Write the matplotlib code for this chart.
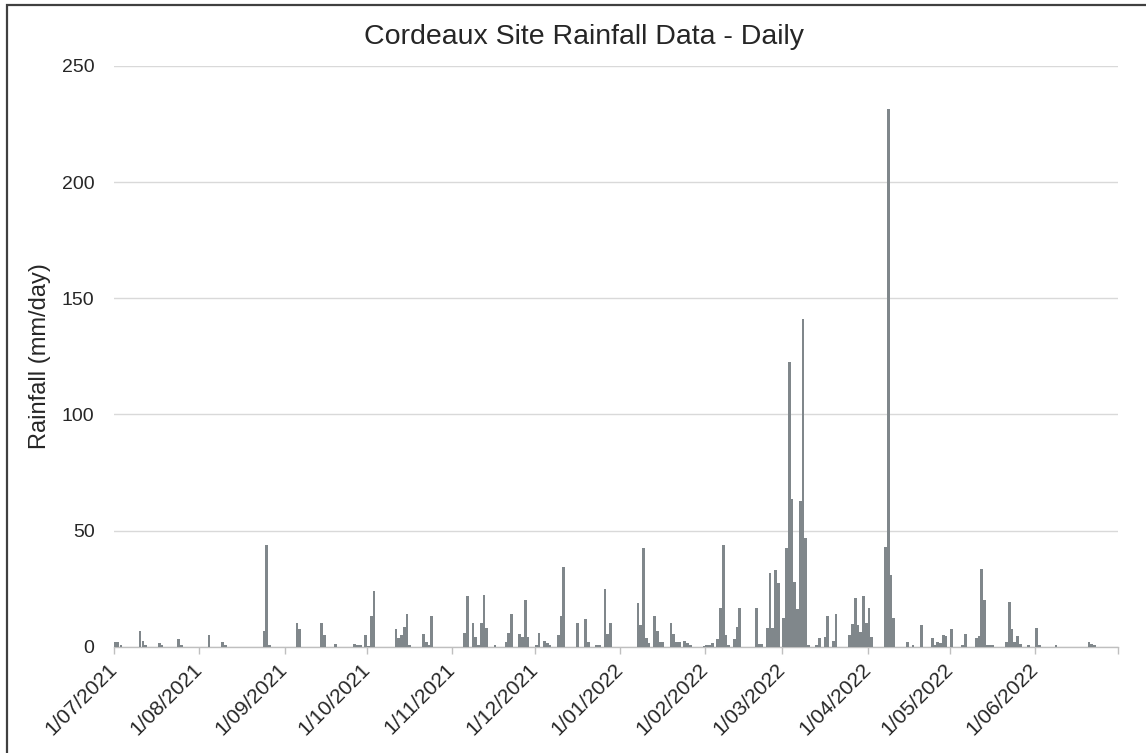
import matplotlib
matplotlib.use("Agg")
import matplotlib.pyplot as plt
import matplotlib.dates as mdates
import pandas as pd
from matplotlib.patches import Rectangle

# ---- data (rainy days only; all other days are 0 mm) ----
rain_dates = [
    "2021-07-01", "2021-07-02", "2021-07-03", "2021-07-10", "2021-07-11", "2021-07-12",
    "2021-07-17", "2021-07-18", "2021-07-24", "2021-07-25", "2021-08-04", "2021-08-09",
    "2021-08-10", "2021-08-24", "2021-08-25", "2021-08-26", "2021-09-05", "2021-09-06",
    "2021-09-14", "2021-09-15", "2021-09-19", "2021-09-26", "2021-09-27", "2021-09-28",
    "2021-09-30", "2021-10-01", "2021-10-02", "2021-10-03", "2021-10-11", "2021-10-12",
    "2021-10-13", "2021-10-14", "2021-10-15", "2021-10-16", "2021-10-21", "2021-10-22",
    "2021-10-23", "2021-10-24", "2021-11-05", "2021-11-06", "2021-11-08", "2021-11-09",
    "2021-11-10", "2021-11-11", "2021-11-12", "2021-11-13", "2021-11-16", "2021-11-20",
    "2021-11-21", "2021-11-22", "2021-11-25", "2021-11-26", "2021-11-27", "2021-11-28",
    "2021-12-01", "2021-12-02", "2021-12-04", "2021-12-05", "2021-12-06", "2021-12-09",
    "2021-12-10", "2021-12-11", "2021-12-16", "2021-12-19", "2021-12-20", "2021-12-23",
    "2021-12-24", "2021-12-26", "2021-12-27", "2021-12-28", "2022-01-07", "2022-01-08",
    "2022-01-09", "2022-01-10", "2022-01-11", "2022-01-13", "2022-01-14", "2022-01-15",
    "2022-01-16", "2022-01-19", "2022-01-20", "2022-01-21", "2022-01-22", "2022-01-24",
    "2022-01-25", "2022-01-26", "2022-01-31", "2022-02-01", "2022-02-02", "2022-02-03",
    "2022-02-05", "2022-02-06", "2022-02-07", "2022-02-08", "2022-02-09", "2022-02-11",
    "2022-02-12", "2022-02-13", "2022-02-19", "2022-02-20", "2022-02-21", "2022-02-23",
    "2022-02-24", "2022-02-25", "2022-02-26", "2022-02-27", "2022-03-01", "2022-03-02",
    "2022-03-03", "2022-03-04", "2022-03-05", "2022-03-06", "2022-03-07", "2022-03-08",
    "2022-03-09", "2022-03-10", "2022-03-13", "2022-03-14", "2022-03-16", "2022-03-17",
    "2022-03-19", "2022-03-20", "2022-03-25", "2022-03-26", "2022-03-27", "2022-03-28",
    "2022-03-29", "2022-03-30", "2022-03-31", "2022-04-01", "2022-04-02", "2022-04-07",
    "2022-04-08", "2022-04-09", "2022-04-10", "2022-04-15", "2022-04-17", "2022-04-20",
    "2022-04-24", "2022-04-25", "2022-04-26", "2022-04-27", "2022-04-28", "2022-04-29",
    "2022-05-01", "2022-05-05", "2022-05-06", "2022-05-10", "2022-05-11", "2022-05-12",
    "2022-05-13", "2022-05-14", "2022-05-15", "2022-05-16", "2022-05-21", "2022-05-22",
    "2022-05-23", "2022-05-24", "2022-05-25", "2022-05-26", "2022-05-29", "2022-06-01",
    "2022-06-02", "2022-06-08", "2022-06-20", "2022-06-21", "2022-06-22",
]
rain_mm = [
    1.9, 1.9, 0.6, 6.8, 2.6, 0.6,
    1.4, 0.6, 3.3, 0.6, 4.9, 2.0,
    0.6, 6.8, 43.7, 0.6, 10.3, 7.5,
    10.3, 4.9, 1.3, 1.3, 0.6, 0.6,
    4.9, 0.5, 13.2, 23.9, 7.5, 3.9,
    4.9, 8.6, 13.9, 0.6, 5.6, 2.0,
    0.6, 13.4, 6.0, 22.0, 10.3, 4.3,
    0.6, 10.3, 22.4, 7.9, 0.6, 2.0,
    6.0, 13.9, 5.6, 4.3, 20.1, 4.3,
    0.6, 6.0, 2.6, 1.4, 0.6, 4.9,
    13.4, 34.1, 10.3, 11.8, 2.0, 0.7,
    0.7, 25.0, 5.6, 10.3, 18.8, 9.2,
    42.4, 3.9, 1.7, 13.4, 6.8, 2.0,
    2.0, 10.3, 5.6, 2.0, 2.0, 2.6,
    1.4, 0.6, 0.4, 0.6, 0.9, 1.4,
    3.4, 16.5, 43.7, 4.9, 0.6, 3.4,
    8.6, 16.5, 16.5, 1.1, 1.1, 7.9,
    31.6, 7.9, 32.8, 27.3, 12.2, 42.4,
    122.4, 63.5, 28.0, 16.1, 62.5, 141.0,
    46.7, 0.7, 0.7, 3.6, 4.3, 13.4,
    2.4, 13.9, 5.0, 9.6, 20.8, 9.3,
    6.2, 21.8, 10.0, 16.5, 4.0, 42.8,
    231.5, 30.8, 12.2, 1.9, 0.7, 9.2,
    3.9, 0.7, 2.0, 1.4, 4.9, 4.5,
    7.5, 0.7, 5.6, 3.9, 4.5, 33.3,
    20.1, 0.7, 0.7, 0.7, 2.0, 19.4,
    7.5, 2.0, 4.5, 1.1, 0.6, 7.9,
    0.6, 0.6, 1.9, 1.3, 0.6,
]
period_start = "2021-07-01"
period_end = "2022-06-30"
y_ticks = [0, 50, 100, 150, 200, 250]
title = "Cordeaux Site Rainfall Data - Daily"
y_label = "Rainfall (mm/day)"

# ---- build daily series ----
days = pd.date_range(period_start, period_end, freq="D")
series = pd.Series(0.0, index=days)
series.loc[pd.to_datetime(rain_dates)] = rain_mm

plt.rcParams["font.family"] = ["Liberation Sans", "DejaVu Sans"]

fig = plt.figure(figsize=(11.46, 7.53), dpi=100)
ax = fig.add_axes([0.0995, 0.1412, 0.876, 0.7712])

xnum = mdates.date2num(series.index) + 0.5
ax.bar(xnum, series.values, width=0.97, color="#80878b", linewidth=0, zorder=3)

x0 = mdates.date2num(pd.Timestamp(period_start))
x1 = mdates.date2num(pd.Timestamp(period_end) + pd.Timedelta(days=1))
ax.set_xlim(x0, x1)
ax.set_ylim(0, 250)
ax.set_yticks(y_ticks)
ax.yaxis.grid(True, color="#d9d9d9", linewidth=1.0, zorder=0)
ax.set_axisbelow(True)

month_starts = pd.date_range(period_start, pd.Timestamp(period_end) + pd.Timedelta(days=1), freq="MS")
ax.set_xticks(mdates.date2num(month_starts))
labels = [f"{d.day}/{d.month:02d}/{d.year}" for d in month_starts]
labels[-1] = ""
ax.set_xticklabels(labels, rotation=45, ha="right", va="center", rotation_mode="anchor")

for s in ["top", "right", "left"]:
    ax.spines[s].set_visible(False)
ax.spines["bottom"].set_color("#bfbfbf")
ax.spines["bottom"].set_linewidth(1.0)
ax.tick_params(axis="x", length=5, width=1, color="#bfbfbf", labelsize=15, labelcolor="#262626", pad=9)
ax.tick_params(axis="y", length=0, labelsize=14, labelcolor="#262626", pad=14)

ax.set_ylabel(y_label, fontsize=17, color="#262626", labelpad=8)
fig.text(0.51, 0.951, title, fontsize=20.5, color="#262626", ha="center", va="center")

# chart-area frame (only left/top edges fall inside the image)
fig.patches.append(Rectangle((7 / 1146, -0.05), 1.2, 1.0 - 5 / 753 + 0.05,
                             transform=fig.transFigure, fill=False,
                             edgecolor="#404040", linewidth=1.6, zorder=10))

fig.savefig("out.png", dpi=100, facecolor="white")
